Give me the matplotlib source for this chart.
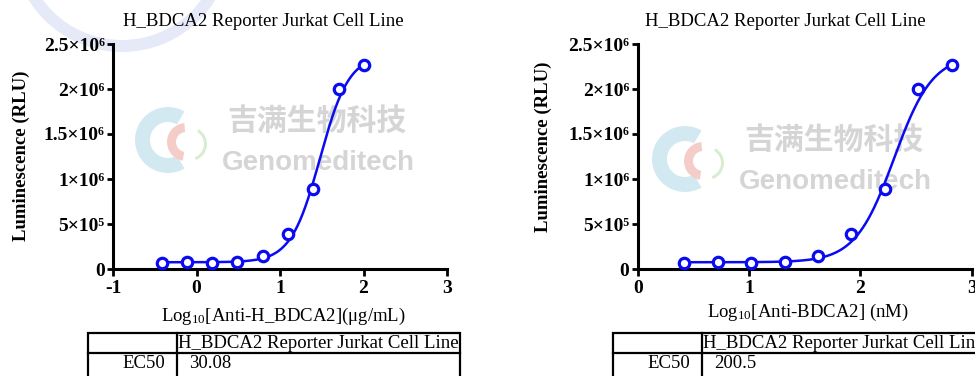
import numpy as np
import matplotlib
matplotlib.use("Agg")
from matplotlib import pyplot as plt
from matplotlib.patches import Wedge, Rectangle
from matplotlib.ticker import FixedLocator

plt.rcParams['font.family'] = ['Liberation Serif', 'DejaVu Serif']
plt.rcParams['mathtext.fontset'] = 'custom'
plt.rcParams['mathtext.rm'] = 'Liberation Serif'
plt.rcParams['mathtext.it'] = 'Liberation Serif:italic'
plt.rcParams['mathtext.bf'] = 'Liberation Serif:bold'

#Data
logConcUg = [-0.41, -0.11, 0.19, 0.49, 0.80, 1.10, 1.40, 1.71, 2.01]
logConcNm = [0.42, 0.72, 1.02, 1.32, 1.62, 1.92, 2.22, 2.52, 2.82]
luminescence = [70000, 81000, 70000, 78000, 144000, 385000, 885000, 1996000, 2270000]

#4PL fit parameters (EC50 from the tables)
ec50Ug = 30.08
ec50Nm = 200.5
fitBottom = 75000
fitTop = 2380000
fitHill = 2.5

titleText = 'H_BDCA2 Reporter Jurkat Cell Line'
xLabelUg = 'Log$_{10}$[Anti-H_BDCA2](μg/mL)'
xLabelNm = 'Log$_{10}$[Anti-BDCA2] (nM)'
yLabel = 'Luminescence (RLU)'
yTicks = [0, 500000, 1000000, 1500000, 2000000, 2500000]
yTickLabels = ['0', '5×10⁵', '1×10⁶', '1.5×10⁶', '2×10⁶', '2.5×10⁶']
xTicksUg = [-1, 0, 1, 2, 3]
xTicksNm = [0, 1, 2, 3]

W, H = 975, 376
blue = '#0b0bf2'

fig = plt.figure(figsize=(W / 100, H / 100), dpi=100)

#background layer in pixel coordinates (watermark + tables)
bg = fig.add_axes([0, 0, 1, 1])
bg.set_xlim(0, W)
bg.set_ylim(0, H)
bg.axis('off')

def py(y):
    return H - y

#big faint arc top-left
bg.add_patch(Wedge((122, py(-58)), 110, 180, 360, width=12, color='#e6eaf8', lw=0))

def watermark(dx, dy):
    cx, cy = 168 + dx, 140 + dy
    bg.add_patch(Wedge((cx, py(cy)), 33, 60, 300, width=15, color='#d3e9f1', lw=0))
    bg.add_patch(Wedge((cx + 18, py(cy + 2)), 19, 95, 260, width=9, color='#f5cdc8', lw=0))
    bg.add_patch(Wedge((cx + 22, py(cy + 4)), 17, -70, 60, width=3, color='#d9ecd0', lw=0))
    bg.text(317 + dx, py(121 + dy), '吉满生物科技', fontsize=21.5, color='#d5d5d5',
            family=['Noto Sans CJK SC'], weight='bold', ha='center', va='center')
    bg.text(318 + dx, py(170 + dy), 'Genomeditech', fontsize=20, color='#d5d5d5',
            family=['Liberation Sans'], weight='bold', ha='center', va='baseline')

watermark(0, 0)
watermark(517, 19)

def table(x0, x1, xs, value):
    top, mid, bot = 333, 353, 390
    bg.add_patch(Rectangle((x0, py(bot)), x1 - x0, bot - top, fill=False, ec='black', lw=1.6))
    bg.plot([x0, x1], [py(mid), py(mid)], color='black', lw=1.6)
    bg.plot([xs, xs], [py(top), py(bot)], color='black', lw=1.6)
    bg.text(xs + 1, py((top + mid) / 2), titleText, fontsize=13.5, ha='left', va='center')
    bg.text(xs - 12, py(364), 'EC50', fontsize=13.5, ha='right', va='center')
    bg.text(xs + 12, py(364), value, fontsize=13.5, ha='left', va='center')

table(88, 460, 177, '30.08')
table(613, 990, 702, '200.5')

def curve(ax, xData, ec50):
    xs = np.linspace(xData[0], xData[-1], 300)
    ys = fitBottom + (fitTop - fitBottom) / (1 + 10 ** ((np.log10(ec50) - xs) * fitHill))
    ax.plot(xs, ys, color=blue, lw=1.8, zorder=2)
    ax.plot(xData, luminescence, 'o', ms=7.5, mew=2.3, mec=blue, mfc='white', zorder=3,
            clip_on=False)

def style(ax, xTicks, xlim):
    ax.set_facecolor('none')
    ax.set_xlim(*xlim)
    ax.set_ylim(0, 2500000)
    for s in ['top', 'right']:
        ax.spines[s].set_visible(False)
    for s in ['left', 'bottom']:
        ax.spines[s].set_linewidth(2.2)
    ax.xaxis.set_major_locator(FixedLocator(xTicks))
    ax.yaxis.set_major_locator(FixedLocator(yTicks))
    ax.set_xticklabels([str(t) for t in xTicks])
    ax.set_yticklabels(yTickLabels)
    ax.tick_params(axis='both', direction='out', width=2, labelsize=14)
    ax.tick_params(axis='x', length=5, pad=3)
    ax.tick_params(axis='y', length=4, pad=2)
    for lab in ax.get_xticklabels() + ax.get_yticklabels():
        lab.set_fontweight('bold')

axL = fig.add_axes([113 / W, 1 - 269 / H, 334 / W, 225 / H])
curve(axL, logConcUg, ec50Ug)
style(axL, xTicksUg, (-1, 3))

axR = fig.add_axes([637.7 / W, 1 - 269 / H, 334 / W, 225 / H])
curve(axR, logConcNm, ec50Nm)
style(axR, xTicksNm, (0, 3))

#titles and axis labels
fig.text(263 / W, 1 - 21 / H, titleText, fontsize=13.5, ha='center', va='center')
fig.text(785 / W, 1 - 21 / H, titleText, fontsize=13.5, ha='center', va='center')
fig.text(283 / W, 1 - 316 / H, xLabelUg, fontsize=13.5, ha='center', va='center')
fig.text(808 / W, 1 - 312 / H, xLabelNm, fontsize=13.5, ha='center', va='center')
fig.text(21 / W, 1 - 156 / H, yLabel, fontsize=13.5, weight='bold', rotation=90,
         ha='center', va='center')
fig.text(543 / W, 1 - 147 / H, yLabel, fontsize=13.5, weight='bold', rotation=90,
         ha='center', va='center')

fig.savefig('out.png', dpi=100)
